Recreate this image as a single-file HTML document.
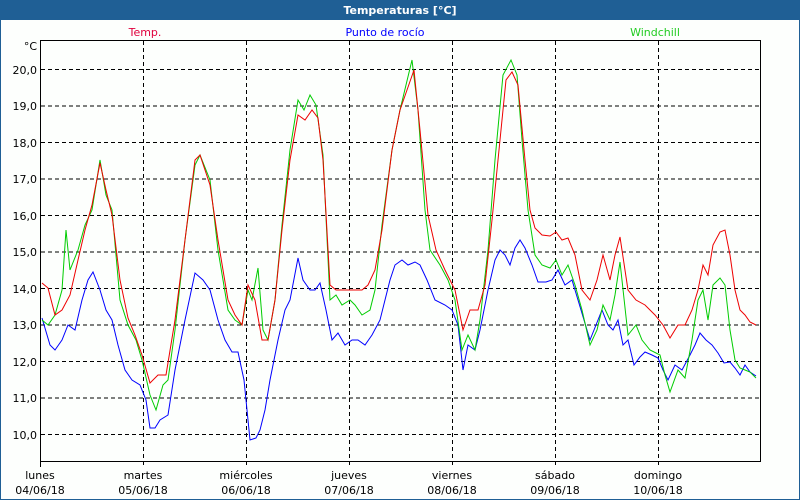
<!DOCTYPE html>
<html><head><meta charset="utf-8"><style>
body{margin:0;width:800px;height:500px;overflow:hidden;background:#fff;font-family:"DejaVu Sans","Liberation Sans",sans-serif}
</style></head><body>
<svg width="800" height="500" xmlns="http://www.w3.org/2000/svg" font-family="'DejaVu Sans','Liberation Sans',sans-serif" font-size="11">
<rect x="0" y="0" width="800" height="500" fill="#1f5f95"/>
<rect x="1" y="20" width="798" height="479" fill="#fdfffd"/>
<text x="400" y="14" fill="#fff" font-weight="bold" text-anchor="middle" font-size="11">Temperaturas [°C]</text>
<text x="145" y="36" fill="#e0003c" text-anchor="middle">Temp.</text>
<text x="385" y="36" fill="#0000ff" text-anchor="middle">Punto de rocío</text>
<text x="655" y="36" fill="#22cc22" text-anchor="middle">Windchill</text>
<g stroke="#000" stroke-dasharray="4,3" stroke-width="1">
<line x1="41" x2="760" y1="69.5" y2="69.5"/><line x1="41" x2="760" y1="106" y2="106"/><line x1="41" x2="760" y1="142.5" y2="142.5"/><line x1="41" x2="760" y1="179" y2="179"/><line x1="41" x2="760" y1="215.5" y2="215.5"/><line x1="41" x2="760" y1="252" y2="252"/><line x1="41" x2="760" y1="288.5" y2="288.5"/><line x1="41" x2="760" y1="325" y2="325"/><line x1="41" x2="760" y1="361.5" y2="361.5"/><line x1="41" x2="760" y1="398" y2="398"/><line x1="41" x2="760" y1="434.5" y2="434.5"/>
<line x1="143.5" x2="143.5" y1="41" y2="467"/><line x1="246.5" x2="246.5" y1="41" y2="467"/><line x1="349.5" x2="349.5" y1="41" y2="467"/><line x1="452.5" x2="452.5" y1="41" y2="467"/><line x1="555.5" x2="555.5" y1="41" y2="467"/><line x1="658.5" x2="658.5" y1="41" y2="467"/>
</g>
<path d="M40.5 467V40.5H760.5V461M40.5 461.5H761" stroke="#000" fill="none"/>
<g text-anchor="end" fill="#000">
<text x="37" y="50">°C</text>
<text x="37" y="74">20,0</text><text x="37" y="110">19,0</text><text x="37" y="147">18,0</text><text x="37" y="183">17,0</text><text x="37" y="220">16,0</text><text x="37" y="256">15,0</text><text x="37" y="293">14,0</text><text x="37" y="329">13,0</text><text x="37" y="366">12,0</text><text x="37" y="402">11,0</text><text x="37" y="439">10,0</text>
</g>
<g text-anchor="middle" fill="#000">
<text x="40" y="479">lunes</text><text x="40" y="494">04/06/18</text>
<text x="143" y="479">martes</text><text x="143" y="494">05/06/18</text>
<text x="246" y="479">miércoles</text><text x="246" y="494">06/06/18</text>
<text x="349" y="479">jueves</text><text x="349" y="494">07/06/18</text>
<text x="452" y="479">viernes</text><text x="452" y="494">08/06/18</text>
<text x="555" y="479">sábado</text><text x="555" y="494">09/06/18</text>
<text x="658" y="479">domingo</text><text x="658" y="494">10/06/18</text>
</g>
<g fill="none" stroke-width="1">
<polyline stroke="#0000ff" points="42,318 50,345 55,350 62,340 68,325 75,330 82,300 88,280 93,272 100,290 106,310 112,320 118,345 125,370 132,380 140,385 146,400 150,428 155,428 160,420 168,415 175,370 185,320 195,273 203,280 210,290 218,320 225,340 232,352 238,352 244,380 250,440 256,438 260,430 265,410 270,380 278,340 285,310 290,300 298,258 303,280 310,290 315,290 320,283 326,310 332,340 338,333 345,345 352,340 358,340 365,345 372,335 380,320 385,300 390,280 395,265 402,260 408,265 415,262 420,265 427,280 435,300 445,305 452,310 458,325 463,370 468,345 475,350 480,330 488,290 495,260 500,250 505,255 510,265 515,248 520,240 525,248 532,265 538,282 546,282 552,280 558,270 565,285 572,280 578,300 584,320 590,340 596,325 602,310 608,325 613,330 618,320 623,345 628,340 634,365 640,357 645,352 652,355 658,358 663,370 668,380 675,365 682,370 690,355 695,345 700,333 706,340 712,345 718,353 724,363 730,362 735,368 740,375 745,365 750,372 756,376"/>
<polyline stroke="#00cc00" points="42,320 48,325 55,315 62,290 66,230 70,270 78,250 85,225 92,210 100,160 106,195 112,210 120,300 128,325 136,340 142,360 150,395 156,410 163,385 168,380 175,330 185,240 195,165 200,155 210,180 218,250 228,310 235,320 242,325 248,290 252,300 258,268 263,330 268,340 275,300 282,225 290,150 298,100 304,110 310,95 316,105 323,155 330,300 336,295 342,305 350,300 355,305 362,315 370,310 375,290 382,225 392,150 400,110 406,85 412,60 418,110 425,210 430,250 440,265 448,280 455,300 462,350 468,335 475,350 480,320 488,250 495,160 503,75 511,60 517,75 522,140 528,210 535,255 542,265 550,268 556,260 562,275 568,265 575,285 582,310 590,345 597,330 603,305 610,320 615,295 620,262 628,335 636,325 642,340 650,350 660,355 665,375 670,392 678,370 685,378 692,340 698,300 703,290 708,320 713,285 720,278 725,285 730,330 735,360 740,368 745,370 750,372 756,378"/>
<polyline stroke="#ee0000" points="42,283 48,288 55,315 62,310 70,295 78,260 85,230 92,205 100,163 106,190 112,215 120,280 128,318 135,335 142,355 150,383 158,375 166,375 175,320 185,240 195,160 200,155 210,185 218,240 228,300 235,315 242,325 248,285 255,300 262,340 268,340 275,300 282,230 290,160 298,115 305,120 312,110 318,118 323,160 330,285 336,290 345,290 355,290 362,290 368,285 375,270 382,230 392,150 400,110 407,90 414,70 420,130 428,215 436,250 445,270 455,290 463,330 470,310 478,310 485,285 492,220 500,140 506,80 512,72 518,85 525,160 530,210 535,228 542,235 550,236 556,232 562,240 568,238 575,255 582,290 590,300 597,280 603,255 610,280 615,255 620,237 628,290 636,300 645,305 655,315 663,325 670,338 678,325 685,325 692,310 698,290 703,265 708,275 713,245 720,232 725,230 730,255 735,290 740,310 745,315 750,322 756,325"/>
</g>
</svg>
</body></html>
